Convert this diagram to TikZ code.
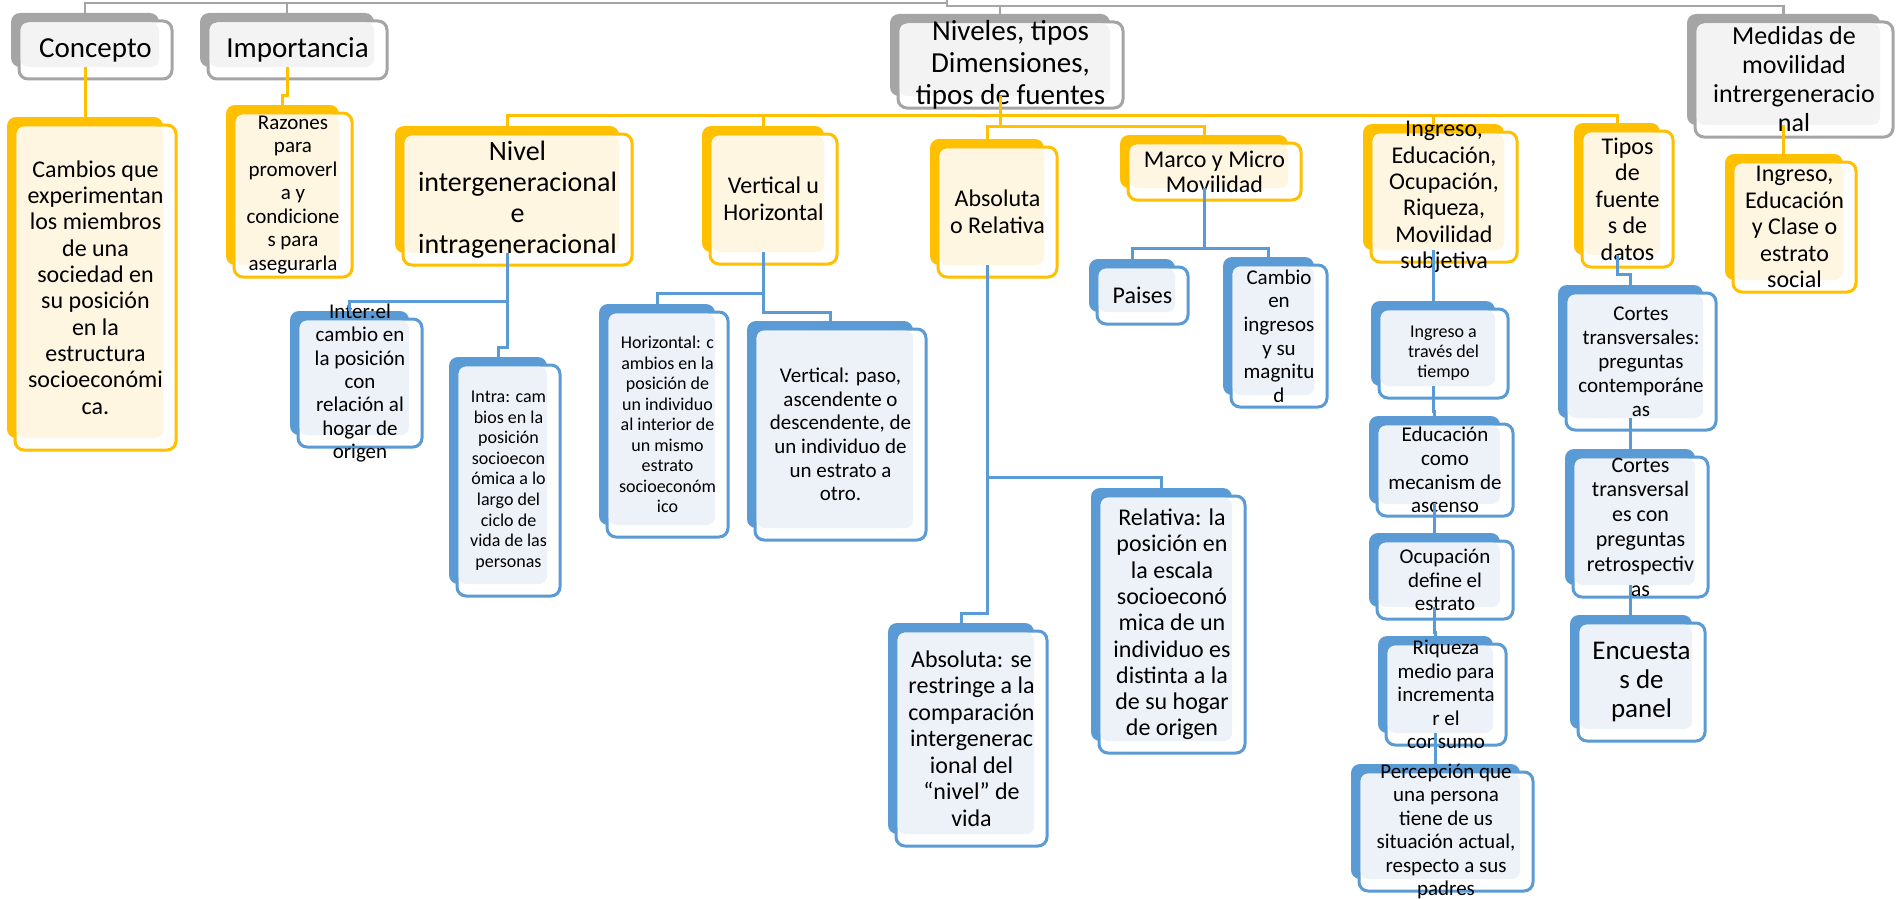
\documentclass[tikz,border=0pt]{standalone}
\usepackage{fontspec}
\setmainfont{Carlito}
\usetikzlibrary{calc}
\definecolor{gbk}{HTML}{A5A5A5}
\definecolor{gbd}{HTML}{A5A5A5}
\definecolor{glt}{HTML}{F3F3F3}
\definecolor{ybk}{HTML}{FFC000}
\definecolor{ybd}{HTML}{FFC000}
\definecolor{ylt}{HTML}{FFF6E1}
\definecolor{bbk}{HTML}{5B9BD5}
\definecolor{bbd}{HTML}{5B9BD5}
\definecolor{blt}{HTML}{EDF2F9}
\tikzset{
  bk/.style={rounded corners=9pt, inner sep=0pt, outer sep=0pt, draw=none},
  fr/.style={rounded corners=9pt, inner sep=0pt, outer sep=0pt, fill=white, line width=3pt},
  tx/.style={align=center, inner sep=0pt, text=black},
  gcon/.style={draw=gbd, line width=2.8pt},
  ycon/.style={draw=ybd, line width=3pt},
  bcon/.style={draw=bbd, line width=3pt}
}
% #1 kind, #2 name, #3-#6 front frame x0 y0 x1 y1, #7 font size, #8 baselineskip, #9 text
\newcommand\smbox[9]{%
  \node[bk, fill=#1bk, minimum width={(#5-#3-5)*1pt}, minimum height={(#6-#4-4)*1pt}] (#2-b) at ({(#3+#5-21)/2},{(#4+#6-20)/2}) {};
  \node[fr, draw=#1bd, minimum width={(#5-#3)*1pt}, minimum height={(#6-#4)*1pt}] (#2-f) at ({(#3+#5)/2},{(#4+#6)/2}) {};
  \fill[#1lt, rounded corners=8pt] (#3+1.5,#4+1.5) rectangle (#5-13,#6-12);
  \node[tx, font=\fontsize{#7}{#8}\selectfont] (#2) at ({(#3+#5)/2},{(#4+#6)/2}) {#9};
}
\begin{document}
\begin{tikzpicture}[x=1pt,y=-1pt]
\useasboundingbox (0,0) rectangle (1898,899);
\fill[white] (0,0) rectangle (1898,899);

% top level (gray)
\smbox{g}{conc}{19}{21}{172}{79}{29}{34}{Concepto}
\smbox{g}{imp}{208}{21}{387}{79}{29}{34}{Importancia}
\smbox{g}{niv}{898}{22}{1123}{108}{29}{32}{Niveles, tipos\\Dimensiones,\\tipos de fuentes}
\smbox{g}{med}{1695}{22}{1893}{137}{26}{29}{Medidas de\\movilidad\\intrergeneracio\\nal}

% second level (yellow)
\smbox{y}{camb}{15}{125}{176}{450}{24}{26.3}{Cambios que\\experimentan\\los miembros\\de una\\sociedad en\\su posición\\en la\\estructura\\socioeconómi\\ca.}
\smbox{y}{raz}{234}{113}{352}{277}{21}{23.5}{Razones\\para\\promoverl\\a y\\condicione\\s para\\asegurarla}
\smbox{y}{nivel}{403}{134}{632}{265}{28}{31}{Nivel\\intergeneracional\\e\\intrageneracional}
\smbox{y}{vert}{710}{134}{837}{264}{24}{27}{Vertical u\\Horizontal}
\smbox{y}{abso}{938}{147}{1057}{277}{24}{27}{Absoluta\\o Relativa}
\smbox{y}{marco}{1128}{143}{1301}{200}{24}{25}{Marco y Micro\\Movilidad}
\smbox{y}{ingr}{1371}{132}{1517}{262}{24}{26.4}{Ingreso,\\Educación,\\Ocupación,\\Riqueza,\\Movilidad\\subjetiva}
\smbox{y}{tipos}{1582}{131}{1673}{267}{24}{26.5}{Tipos\\de\\fuente\\s de\\datos}
\smbox{y}{ingm}{1733}{162}{1856}{292}{24}{26.5}{Ingreso,\\Educación\\y Clase o\\estrato\\social}

% third level (blue)
\smbox{b}{inter}{298}{319}{422}{447}{21}{23.3}{Inter:el\\cambio en\\la posición\\con\\relación al\\hogar de\\origen}
\smbox{b}{intra}{457}{365}{560}{596}{18}{20.6}{Intra: cam\\bios en la\\posición\\socioecon\\ómica a lo\\largo del\\ciclo de\\vida de las\\personas}
\smbox{b}{horiz}{607}{312}{728}{537}{18}{20.5}{Horizontal: c\\ambios en la\\posición de\\un individuo\\al interior de\\un mismo\\estrato\\socioeconóm\\ico}
\smbox{b}{vpaso}{755}{329}{926}{540}{21}{23.6}{Vertical: paso,\\ascendente o\\descendente, de\\un individuo de\\un estrato a\\otro.}
\smbox{b}{pais}{1097}{267}{1188}{324}{24}{26}{Paises}
\smbox{b}{cambio}{1231}{265}{1327}{407}{21}{23.6}{Cambio\\en\\ingresos\\y su\\magnitu\\d}
\smbox{b}{relat}{1099}{496}{1245}{753}{24}{26.3}{Relativa: la\\posición en\\la escala\\socioeconó\\mica de un\\individuo es\\distinta a la\\de su hogar\\de origen}
\smbox{b}{absse}{896}{631}{1047}{846}{24}{26.5}{Absoluta: se\\restringe a la\\comparación\\intergenerac\\ional del\\“nivel” de\\vida}
\smbox{b}{ingt}{1379}{309}{1508}{398}{18}{20}{Ingreso a\\través del\\tiempo}
\smbox{b}{educ}{1377}{424}{1513}{516}{21}{23.7}{Educación\\como\\mecanism de\\ascenso}
\smbox{b}{ocup}{1377}{541}{1513}{619}{21}{23.5}{Ocupación\\define el\\estrato}
\smbox{b}{riq}{1386}{644}{1506}{745}{21}{23.5}{Riqueza\\medio para\\incrementa\\r el\\consumo}
\smbox{b}{perc}{1359}{772}{1533}{891}{21}{23.5}{Percepción que\\una persona\\tiene de us\\situación actual,\\respecto a sus\\padres}
\smbox{b}{cort1}{1566}{293}{1716}{430}{21}{24}{Cortes\\transversales:\\preguntas\\contemporáne\\as}
\smbox{b}{cort2}{1573}{457}{1708}{597}{22}{24.8}{Cortes\\transversal\\es con\\preguntas\\retrospectiv\\as}
\smbox{b}{encu}{1578}{623}{1705}{741}{27}{29}{Encuesta\\s de\\panel}

% connectors
\coordinate (root) at (947,0);
\coordinate (busL) at (0,3);
\coordinate (busR) at (0,6);
\draw[gcon] (root) |- (conc-b.north |- busL) -- (conc-b.north);
\draw[gcon] (root) |- (imp-b.north |- busL) -- (imp-b.north);
\draw[gcon] (root) |- (niv-b.north |- busR) -- (niv-b.north);
\draw[gcon] (root) |- (med-b.north |- busR) -- (med-b.north);

\draw[ycon] (conc-b.south) -- (conc-b.south |- camb-b.north);
\draw[ycon] (imp-b.south) -- ++(0,28) -| (raz-b.north);
\draw[ycon] (niv-b.south) -- ++(0,19) -| (nivel-b.north);
\draw[ycon] (niv-b.south) -- ++(0,19) -| (vert-b.north);
\draw[ycon] (niv-b.south) -- ++(0,19) -| (ingr-b.north);
\draw[ycon] (niv-b.south) -- ++(0,19) -| (tipos-b.north);
\draw[ycon] (niv-b.south) -- ++(0,30) -| (abso-b.north);
\draw[ycon] (niv-b.south) -- ++(0,30) -| (marco-b.north);
\draw[ycon] (med-b.south) -- (med-b.south |- ingm-b.north);

\draw[bcon] (nivel-b.south) -- ++(0,48) -| (inter-b.north);
\draw[bcon] (nivel-b.south) -- ++(0,94) -| (intra-b.north);
\draw[bcon] (vert-b.south) -- ++(0,41) -| (horiz-b.north);
\draw[bcon] (vert-b.south) -- ++(0,60) -| (vpaso-b.north);
\draw[bcon] (abso-b.south) -- ++(0,212) -| (relat-b.north);
\draw[bcon] (abso-b.south) -- ++(0,348) -| (absse-b.north);
\draw[bcon] (marco-b.south) -- ++(0,60) -| (pais-b.north);
\draw[bcon] (marco-b.south) -- ++(0,60) -| (cambio-b.north);
\draw[bcon] (ingr-b.south) -- (ingr-b.south |- ingt-b.north);
\draw[bcon] (ingt-b.south) -- ++(0,25) -| (educ-b.north);
\draw[bcon] (educ-b.south) -- (educ-b.south |- ocup-b.north);
\draw[bcon] (ocup-b.south) -- ++(0,25) -| (riq-b.north);
\draw[bcon] (riq-b.south) -- (riq-b.south |- perc-b.north);
\draw[bcon] (tipos-b.south) -- ++(0,19) -| (cort1-b.north);
\draw[bcon] (cort1-b.south) -- (cort1-b.south |- cort2-b.north);
\draw[bcon] (cort2-b.south) -- (cort2-b.south |- encu-b.north);
\end{tikzpicture}
\end{document}
